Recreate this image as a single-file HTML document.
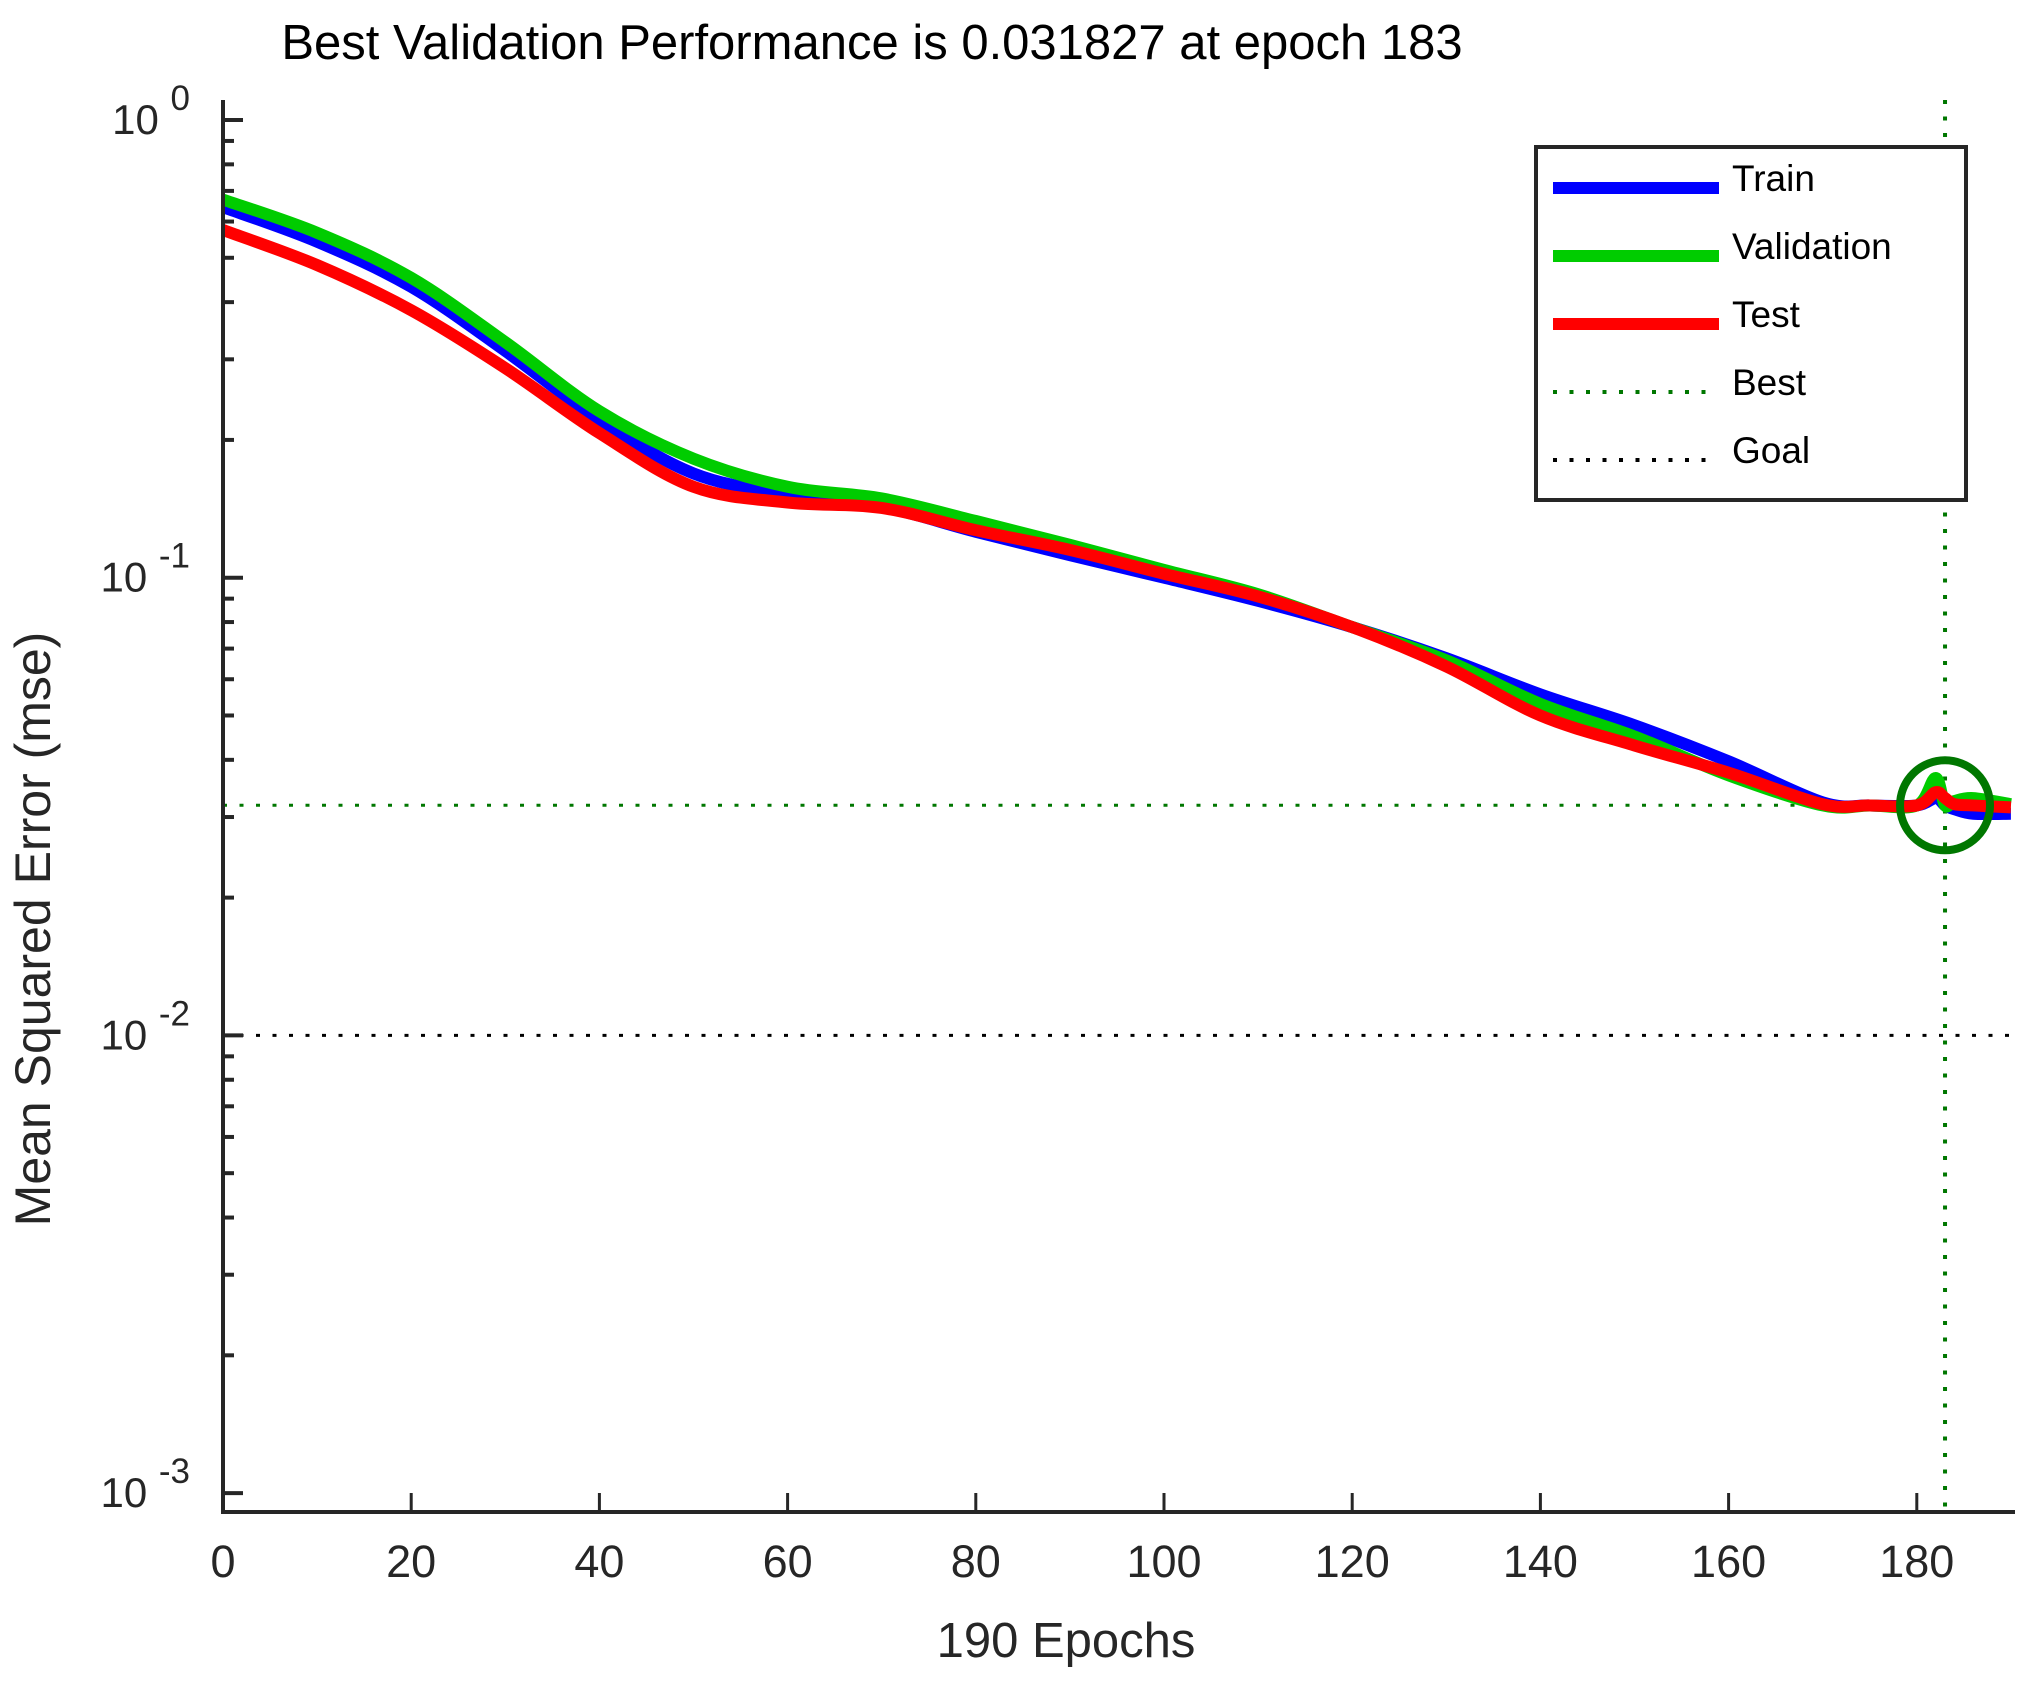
<!DOCTYPE html>
<html><head><meta charset="utf-8"><style>
html,body{margin:0;padding:0;background:#fff;}
svg{display:block;font-family:"Liberation Sans",Arial,sans-serif;}
</style></head><body>
<svg id="chart" width="2023" height="1681" viewBox="0 0 2023 1681" xmlns="http://www.w3.org/2000/svg">
<rect width="2023" height="1681" fill="#fff"/>
<text x="872" y="59" font-size="49" text-anchor="middle" fill="#000">Best Validation Performance is 0.031827 at epoch 183</text>
<text transform="translate(50,929) rotate(-90)" font-size="50" text-anchor="middle" fill="#262626">Mean Squared Error  (mse)</text>
<text x="1066" y="1657" font-size="49" text-anchor="middle" fill="#262626">190 Epochs</text>
<g id="grid"></g>
<g id="series"></g>
<g id="axes"></g>
<g id="legend">
<rect x="1536" y="147" width="430" height="353" fill="#fff" stroke="#262626" stroke-width="4"/>
<line x1="1553" y1="188" x2="1719" y2="188" stroke="#0000ff" stroke-width="12"/>
<text x="1732" y="191" font-size="37" fill="#000">Train</text>
<line x1="1553" y1="256" x2="1719" y2="256" stroke="#00cc00" stroke-width="12"/>
<text x="1732" y="259" font-size="37" fill="#000">Validation</text>
<line x1="1553" y1="324" x2="1719" y2="324" stroke="#ff0000" stroke-width="12"/>
<text x="1732" y="327" font-size="37" fill="#000">Test</text>
<line x1="1553" y1="392" x2="1710" y2="392" stroke="#007700" stroke-width="4" stroke-dasharray="4 12.5"/>
<text x="1732" y="395" font-size="37" fill="#000">Best</text>
<line x1="1553" y1="460" x2="1710" y2="460" stroke="#000" stroke-width="4" stroke-dasharray="4 12.5"/>
<text x="1732" y="463" font-size="37" fill="#000">Goal</text>
</g>
</svg>
<script>
const epochs = [0,10,20,30,40,50,60,70,80,90,100,110,120,130,140,150,160,170,175,180,182,183,184,186,190];
const trainMse = [0.645,0.542,0.432,0.313,0.221,0.169,0.152,0.143,0.126,0.112,0.100,0.089,0.078,0.0667,0.0556,0.0476,0.0397,0.0323,0.0318,0.0318,0.0330,0.0318,0.0312,0.0305,0.0305];
const valMse = [0.67,0.567,0.452,0.327,0.231,0.182,0.158,0.149,0.133,0.118,0.104,0.092,0.078,0.066,0.053,0.045,0.037,0.0318,0.0318,0.0318,0.0365,0.0318,0.0325,0.0330,0.0320];
const testMse = [0.575,0.482,0.384,0.287,0.207,0.158,0.146,0.142,0.127,0.115,0.102,0.091,0.078,0.064,0.05,0.043,0.0375,0.0320,0.0318,0.0318,0.0340,0.0330,0.0320,0.0318,0.0315];
const xTicks = [0,20,40,60,80,100,120,140,160,180];
const yDecades = [0,-1,-2,-3];
const bestEpoch = 183;
const bestValue = 0.031827;
const goalValue = 0.01;

const X0=223, XPE=9.41, Y0=120, YPD=457.7, TOP=100, BOT=1512, RIGHT=2011;
const sx = e => X0 + e*XPE;
const sy = v => Y0 - Math.log10(v)*YPD;
const NS='http://www.w3.org/2000/svg';
function mk(tag, attrs, parent){const el=document.createElementNS(NS,tag);for(const k in attrs)el.setAttribute(k,attrs[k]);parent.appendChild(el);return el;}
const axes=document.getElementById('axes'), series=document.getElementById('series'), grid=document.getElementById('grid');

let l=mk('line',{x1:X0,y1:sy(bestValue),x2:RIGHT,y2:sy(bestValue),stroke:'#007700','stroke-width':3,'stroke-dasharray':'4 12.5'},grid);


l=mk('line',{x1:sx(bestEpoch),y1:TOP,x2:sx(bestEpoch),y2:BOT,stroke:'#007700','stroke-width':4,'stroke-dasharray':'4 12.5'},grid);


l=mk('line',{x1:X0,y1:sy(goalValue),x2:RIGHT,y2:sy(goalValue),stroke:'#000','stroke-width':3,'stroke-dasharray':'4 12.5'},grid);



function smoothPath(xs, ys){
  const p=xs.map((e,i)=>[sx(e),sy(ys[i])]);
  let d='M'+p[0][0]+','+p[0][1];
  for(let i=0;i<p.length-1;i++){
    const p0=p[i-1]||p[i], p1=p[i], p2=p[i+1], p3=p[i+2]||p2;
    const c1=[p1[0]+(p2[0]-p0[0])/6, p1[1]+(p2[1]-p0[1])/6];
    const c2=[p2[0]-(p3[0]-p1[0])/6, p2[1]-(p3[1]-p1[1])/6];
    d+=' C'+c1[0]+','+c1[1]+' '+c2[0]+','+c2[1]+' '+p2[0]+','+p2[1];
  }
  return d;
}
const sers=[['train-line',trainMse,'#0000ff'],['validation-line',valMse,'#00cc00'],['test-line',testMse,'#ff0000']];
for(const [name,vals,col] of sers){
  const p=mk('path',{d:smoothPath(epochs,vals),fill:'none',stroke:col,'stroke-width':12,'stroke-linejoin':'round'},series);
  
  
}
const c=mk('circle',{cx:sx(bestEpoch),cy:sy(bestValue),r:45,fill:'none',stroke:'#007700','stroke-width':8},series);



l=mk('line',{x1:X0,y1:TOP,x2:X0,y2:BOT+2,stroke:'#262626','stroke-width':4},axes);


l=mk('line',{x1:X0-2,y1:BOT,x2:RIGHT+4,y2:BOT,stroke:'#262626','stroke-width':4},axes);


for(const t of xTicks){
  const tk=mk('line',{x1:sx(t),y1:BOT,x2:sx(t),y2:BOT-19,stroke:'#262626','stroke-width':3},axes);
  
  
  const tx=mk('text',{x:sx(t),y:1577,'font-size':45,'text-anchor':'middle',fill:'#262626'},axes);
  tx.textContent=t;
  
  
}
for(const d of yDecades){
  const y=sy(Math.pow(10,d));
  const tk=mk('line',{x1:X0,y1:y,x2:X0+20,y2:y,stroke:'#262626','stroke-width':4},axes);
  
  
  const tx=mk('text',{x:X0-33,y:y+14,'font-size':42,'text-anchor':'end',fill:'#262626'},axes);
  
  
  const base=document.createElementNS(NS,'tspan');base.textContent='10 ';tx.appendChild(base);
  const ex=document.createElementNS(NS,'tspan');ex.setAttribute('dy','-24');ex.setAttribute('font-size','35');ex.textContent=String(d);tx.appendChild(ex);
  if(d>-3){
    for(let m=2;m<=9;m++){
      const ym=sy(m*Math.pow(10,d-1));
      const mt=mk('line',{x1:X0,y1:ym,x2:X0+11,y2:ym,stroke:'#262626','stroke-width':4},axes);
      
      
    }
  }
}
</script>
</body></html>
